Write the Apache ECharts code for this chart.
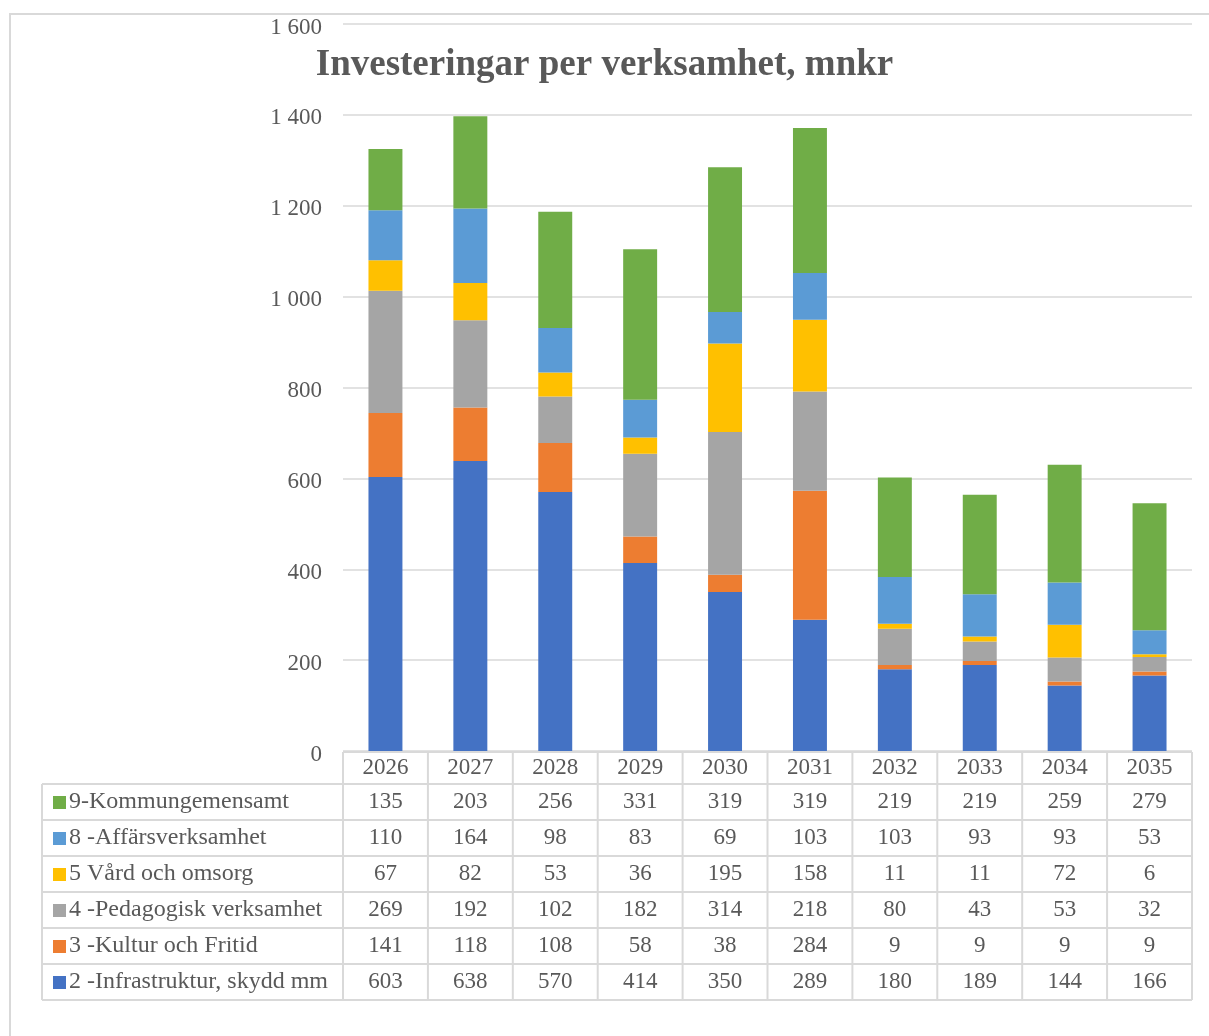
<!DOCTYPE html>
<html>
<head>
<meta charset="utf-8">
<script src="https://cdn.jsdelivr.net/npm/echarts@6/dist/echarts.min.js"></script>
<style>
  html, body { margin: 0; padding: 0; background: #fff; }
  #chart { width: 1209px; height: 1036px; }
</style>
</head>
<body>
<div id="chart"></div>
<script>
const years = ['2026', '2027', '2028', '2029', '2030', '2031', '2032', '2033', '2034', '2035']
const infrastruktur = [603, 638, 570, 414, 350, 289, 180, 189, 144, 166]
const kultur = [141, 118, 108, 58, 38, 284, 9, 9, 9, 9]
const pedagogisk = [269, 192, 102, 182, 314, 218, 80, 43, 53, 32]
const vard = [67, 82, 53, 36, 195, 158, 11, 11, 72, 6]
const affars = [110, 164, 98, 83, 69, 103, 103, 93, 93, 53]
const kommun = [135, 203, 256, 331, 319, 319, 219, 219, 259, 279]
const yTicks = [0, 200, 400, 600, 800, 1000, 1200, 1400, 1600]

// stacking order, bottom to top
const seriesDefs = [
  { name: '2 -Infrastruktur, skydd mm', data: infrastruktur, color: '#4472C4' },
  { name: '3 -Kultur och Fritid', data: kultur, color: '#ED7D31' },
  { name: '4 -Pedagogisk verksamhet', data: pedagogisk, color: '#A5A5A5' },
  { name: '5 Vård och omsorg', data: vard, color: '#FFC000' },
  { name: '8 -Affärsverksamhet', data: affars, color: '#5B9BD5' },
  { name: '9-Kommungemensamt', data: kommun, color: '#70AD47' }
]

const FONT = '"Liberation Serif", "Times New Roman", serif'
const TEXT = '#595959'
const LINE = '#d9d9d9'

const chart = echarts.init(document.getElementById('chart'))

chart.setOption({
  animation: false,
  title: {
    text: 'Investeringar per verksamhet, mnkr',
    left: 'center',
    top: 42,
    textStyle: { fontFamily: FONT, fontSize: 37, fontWeight: 'bold', color: TEXT }
  },
  grid: { left: 343, right: 17, top: 24, bottom: 285 },
  xAxis: {
    type: 'category',
    data: years,
    axisLine: { show: false },
    axisTick: { show: false },
    axisLabel: { show: false }
  },
  yAxis: {
    type: 'value',
    min: yTicks[0],
    max: yTicks[yTicks.length - 1],
    interval: 200,
    axisLine: { show: false },
    axisTick: { show: false },
    splitLine: { lineStyle: { color: LINE, width: 1.5 } },
    axisLabel: {
      margin: 21,
      formatter: v => '{t|' + String(v).replace(/\B(?=(\d{3})+(?!\d))/g, ' ') + '}',
      rich: {
        t: { fontFamily: FONT, fontSize: 23, color: TEXT, padding: [7, 0, 0, 0] }
      }
    }
  },
  series: seriesDefs.map(s => ({
    name: s.name,
    type: 'bar',
    stack: 'total',
    barWidth: '40%',
    data: s.data,
    itemStyle: { color: s.color }
  }))
})

// data table below the plot
function buildTable() {
  const centers = years.map((y, i) => chart.convertToPixel({ xAxisIndex: 0 }, i))
  const band = centers[1] - centers[0]
  const x0 = centers[0] - band / 2
  const x1 = centers[centers.length - 1] + band / 2
  const yTop = chart.convertToPixel({ yAxisIndex: 0 }, 0) + 1
  const headH = 32
  const rowH = 36
  const legendLeft = 42
  const rows = seriesDefs.slice().reverse()
  const yBody = yTop + headH
  const yEnd = yBody + rowH * rows.length
  const g = []
  const line = (ax, ay, bx, by) => g.push({
    type: 'line', silent: true,
    shape: { x1: ax, y1: ay, x2: bx, y2: by },
    style: { stroke: LINE, lineWidth: 2 }
  })
  const text = (str, x, y, align, size) => g.push({
    type: 'text', silent: true, x: x, y: y,
    style: { text: str, fill: TEXT, font: size + 'px ' + FONT, align: align, verticalAlign: 'middle' }
  })

  // horizontal lines
  line(x0, yTop, x1, yTop)
  for (let r = 0; r <= rows.length; r++) line(legendLeft, yBody + r * rowH, x1, yBody + r * rowH)
  // vertical lines
  line(legendLeft, yBody, legendLeft, yEnd)
  for (let c = 0; c <= years.length; c++) line(x0 + c * band, yTop, x0 + c * band, yEnd)

  years.forEach((y, i) => text(y, centers[i], yTop + headH / 2, 'center', 23))
  rows.forEach((s, r) => {
    const cy = yBody + r * rowH + rowH / 2
    g.push({
      type: 'rect', silent: true,
      shape: { x: legendLeft + 11, y: cy - 6, width: 13, height: 13 },
      style: { fill: s.color }
    })
    text(s.name, legendLeft + 27, cy, 'left', 24)
    s.data.forEach((v, i) => text(String(v), centers[i], cy, 'center', 23))
  })

  // outer chart frame
  g.push({
    type: 'rect', silent: true,
    shape: { x: 10, y: 14, width: 1400, height: 1200 },
    style: { fill: 'none', stroke: LINE, lineWidth: 2 }
  })

  chart.setOption({ graphic: g })
}

buildTable()
</script>
</body>
</html>
